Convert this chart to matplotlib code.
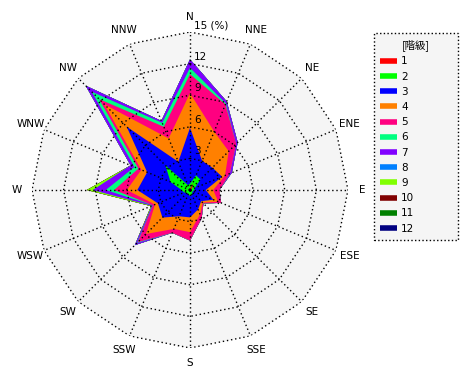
import matplotlib
matplotlib.use("Agg")
import matplotlib.pyplot as plt
from matplotlib.lines import Line2D
from matplotlib.font_manager import FontProperties
import numpy as np

plt.rcParams['font.family'] = ['DejaVu Sans', 'Noto Sans CJK JP']

directions = ['N', 'NNE', 'NE', 'ENE', 'E', 'ESE', 'SE', 'SSE',
              'S', 'SSW', 'SW', 'WSW', 'W', 'WNW', 'NW', 'NNW']

# frequency (%) of each class per direction
class1 = [0.1, 0.7, 0.3, 0.1, 0.1, 0.1, 0.1, 0.1, 0.1, 0.1, 0.1, 0.1, 0.1, 0.1, 0.2, 0.1]
class2 = [0.5, 0.8, 1.1, 0.4, 0.3, 0.2, 0.2, 0.4, 0.5, 0.3, 0.3, 0.5, 0.7, 1.9, 3.1, 0.4]
class3 = [5.3, 1.5, 1.6, 2.8, 1.1, 2.1, 1.2, 1.5, 2.0, 2.3, 3.3, 2.7, 4.2, 2.4, 5.2, 2.4]
class4 = [3.3, 3.0, 2.2, 0.3, 0.7, 0.5, 0.2, 0.5, 1.4, 1.3, 2.2, 0.3, 1.0, 0.6, 3.0, 2.4]
class5 = [1.8, 2.8, 1.0, 0.5, 0.6, 0.3, 0.1, 0.4, 0.8, 0.4, 1.1, 0.2, 1.2, 0.3, 0.7, 1.2]
class6 = [0.6, 0.1, 0.0, 0.0, 0.0, 0.0, 0.0, 0.0, 0.0, 0.0, 0.1, 0.0, 0.8, 0.4, 1.0, 0.4]
class7 = [0.8, 0.2, 0.2, 0.2, 0.0, 0.0, 0.0, 0.0, 0.0, 0.0, 0.3, 0.1, 1.2, 0.4, 0.8, 0.2]
class8 = [0.0] * 16
class9 = [0.0, 0.0, 0.0, 0.0, 0.0, 0.0, 0.0, 0.0, 0.0, 0.0, 0.0, 0.1, 0.6, 0.0, 0.0, 0.0]
class10 = [0.0] * 16
class11 = [0.0] * 16
class12 = [0.0] * 16

class_labels = ['1', '2', '3', '4', '5', '6', '7', '8', '9', '10', '11', '12']
colors = ['#ff0000', '#00ff00', '#0000ff', '#ff8000', '#ff0080', '#00ff80',
          '#8000ff', '#0080ff', '#80ff00', '#800000', '#008000', '#000080']
rings = [3, 6, 9, 12, 15]

data = np.array([class1, class2, class3, class4, class5, class6,
                 class7, class8, class9, class10, class11, class12])
cum = np.cumsum(data, axis=0)

theta = np.deg2rad(np.arange(16) * 22.5)
theta_c = np.append(theta, theta[0])

fig = plt.figure(figsize=(4.7, 3.8), dpi=100)
ax = fig.add_axes([0.4043 - 0.3362, 0.5 - 0.4158, 0.6723, 0.8316], projection='polar')
ax.set_theta_zero_location('N')
ax.set_theta_direction(-1)
ax.set_ylim(0, 15)
ax.grid(False)
ax.set_xticks([])
ax.set_yticks([])
ax.spines['polar'].set_visible(False)
ax.patch.set_visible(False)

# background of the plot area
ax.fill(theta_c, [15] * 17, color='#f5f5f5', lw=0, zorder=0)

# stacked polygons, outermost first
for k in range(11, -1, -1):
    r = np.append(cum[k], cum[k][0])
    ax.fill(theta_c, r, color=colors[k], lw=0, zorder=1)

# polygonal grid
for rv in rings:
    ax.plot(theta_c, [rv] * 17, color='black', lw=1, ls=(0, (1, 2)), zorder=3)
for t in theta:
    ax.plot([t, t], [0, 15], color='black', lw=1, ls=(0, (1, 2)), zorder=3)

for rv in rings:
    lab = str(rv) if rv < 15 else '15 (%)'
    ax.annotate(lab, xy=(0, rv), xytext=(3, 5), textcoords='offset points',
                ha='left', va='center', fontsize=7.5, zorder=4)

for t, d in zip(theta, directions):
    ax.text(t, 16.4, d, ha='center', va='center', fontsize=7.5)

handles = [Line2D([], [], color=c, lw=4, solid_capstyle='butt') for c in colors]
leg = fig.legend(handles, class_labels, loc='upper left',
                 bbox_to_anchor=(374 / 470, 1 - 33 / 380, 84 / 470, 0.0),
                 mode='expand', fontsize=7.5, title='[階級]',
                 title_fontproperties=FontProperties(family=['Noto Sans CJK JP'], size=7.5),
                 handlelength=1.6, handletextpad=0.4, labelspacing=0.5,
                 borderpad=0.6, fancybox=False, framealpha=1, borderaxespad=0)
frame = leg.get_frame()
frame.set_facecolor('#f5f5f5')
frame.set_edgecolor('black')
frame.set_linestyle(':')
frame.set_linewidth(1)

fig.savefig('out.png', dpi=100)
